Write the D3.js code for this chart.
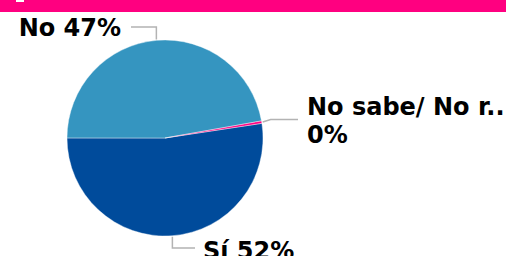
<!DOCTYPE html>
<html>
<head>
<meta charset="utf-8">
<script src="https://cdn.jsdelivr.net/npm/d3@7"></script>
<style>
html,body{margin:0;padding:0;background:#fff;overflow:hidden}
svg{display:block}
text{font-family:"DejaVu Sans",Verdana,sans-serif;font-weight:bold;font-size:24px;fill:#000}
</style>
</head>
<body>
<svg id="chart" width="529" height="256"></svg>
<script>
const categories = ["Sí", "No", "No sabe/ No r.."];
const values = [52.4, 47.2, 0.4];
const pctLabels = ["52%", "47%", "0%"];
const colors = ["#004B9B", "#3595C0", "#FF0080"];

const svg = d3.select("#chart");
const W = 529, H = 256;

// header band
svg.append("rect").attr("x", 0).attr("y", 0).attr("width", 506).attr("height", 12).attr("fill", "#FF0080");
svg.append("rect").attr("x", 16).attr("y", 0).attr("width", 8).attr("height", 2).attr("fill", "#fff");

const cx = 165, cy = 138, r = 98;
const startDeg = 81.4;
const pie = d3.pie().sort(null).value(d => d)
  .startAngle(startDeg * Math.PI / 180)
  .endAngle((startDeg + 360) * Math.PI / 180);
const arcs = pie(values);
const arc = d3.arc().innerRadius(0).outerRadius(r);

const g = svg.append("g").attr("transform", `translate(${cx},${cy})`);
g.selectAll("path").data(arcs).enter().append("path")
  .attr("d", arc)
  .attr("fill", (d, i) => colors[i])
  .attr("stroke", "#fff").attr("stroke-width", 0.4);

// label layout
const layout = [
  {side: "bottom", ly: 248, tx: 203, ty: 259, anchor: "start"},
  {side: "top", ly: 27, tx: 121, ty: 36, anchor: "end"},
  {side: "right", ly: 119.5, tx: 307, ty: 115, anchor: "start"}
];

arcs.forEach((a, i) => {
  const L = layout[i];
  const mid = (a.startAngle + a.endAngle) / 2;
  const px = cx + (r + 1) * Math.sin(mid);
  const py = cy - (r + 1) * Math.cos(mid);
  let pts;
  if (L.side === "top") {
    pts = [[px, py], [px, L.ly], [L.tx + 10, L.ly]];
  } else if (L.side === "bottom") {
    pts = [[px, py], [px, L.ly], [L.tx - 8, L.ly]];
  } else {
    pts = [[px, py], [px + 8, L.ly], [L.tx - 9, L.ly]];
  }
  svg.append("path")
    .attr("d", d3.line()(pts))
    .attr("fill", "none").attr("stroke", "#b3b3b3").attr("stroke-width", 1.5);

  const t = svg.append("text").attr("text-anchor", L.anchor);
  if (L.side === "right") {
    t.append("tspan").attr("x", L.tx).attr("y", L.ty).text(categories[i]);
    t.append("tspan").attr("x", L.tx).attr("y", L.ty + 28).text(pctLabels[i]);
  } else {
    t.attr("x", L.tx).attr("y", L.ty).text(categories[i] + " " + pctLabels[i]);
  }
});
</script>
</body>
</html>
